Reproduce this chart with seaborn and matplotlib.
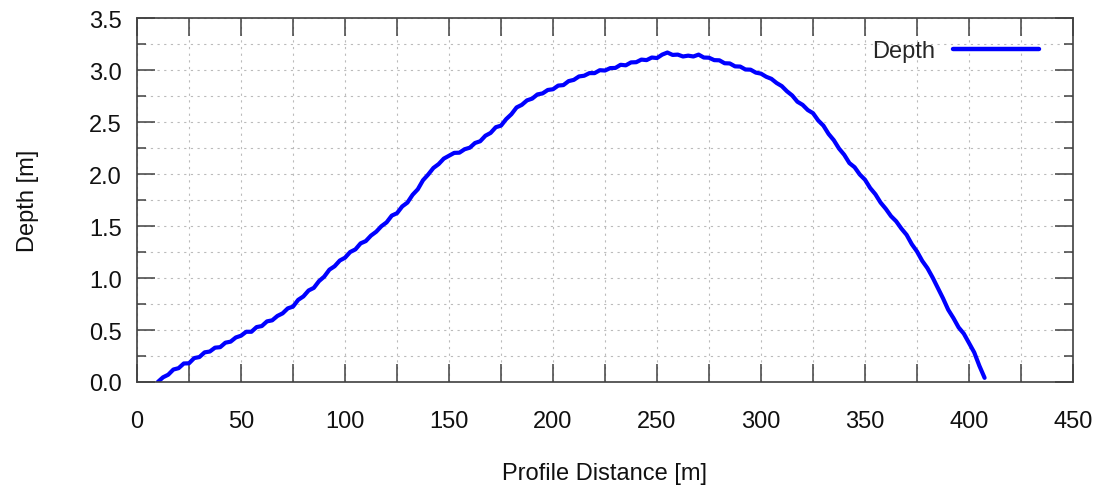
import numpy as np
import pandas as pd
import matplotlib
matplotlib.use("Agg")
import matplotlib.pyplot as plt
import seaborn as sns
from matplotlib.ticker import MultipleLocator, FuncFormatter

# ---- data ----
depth = [
    0.00, 0.045, 0.07, 0.12, 0.133, 0.178, 0.18, 0.23, 0.24, 0.285,
    0.293, 0.33, 0.335, 0.378, 0.388, 0.428, 0.445, 0.483, 0.483, 0.528,
    0.538, 0.583, 0.593, 0.635, 0.66, 0.708, 0.725, 0.79, 0.823, 0.88,
    0.905, 0.97, 1.013, 1.08, 1.113, 1.168, 1.195, 1.25, 1.275, 1.333,
    1.355, 1.408, 1.445, 1.498, 1.535, 1.60, 1.623, 1.688, 1.725, 1.80,
    1.853, 1.94, 1.995, 2.058, 2.095, 2.148, 2.175, 2.203, 2.205, 2.238,
    2.253, 2.298, 2.315, 2.368, 2.395, 2.45, 2.465, 2.528, 2.575, 2.64,
    2.665, 2.708, 2.725, 2.765, 2.775, 2.808, 2.815, 2.85, 2.855, 2.893,
    2.905, 2.938, 2.945, 2.97, 2.97, 2.998, 2.995, 3.018, 3.02, 3.05,
    3.045, 3.073, 3.075, 3.10, 3.095, 3.12, 3.115, 3.148, 3.168, 3.145,
    3.148, 3.13, 3.138, 3.13, 3.148, 3.12, 3.118, 3.095, 3.093, 3.065,
    3.063, 3.035, 3.033, 3.005, 3.003, 2.975, 2.965, 2.935, 2.915, 2.875,
    2.845, 2.795, 2.755, 2.695, 2.665, 2.615, 2.585, 2.515, 2.465, 2.385,
    2.325, 2.245, 2.185, 2.105, 2.065, 1.995, 1.945, 1.865, 1.805, 1.725,
    1.665, 1.595, 1.545, 1.475, 1.415, 1.325, 1.255, 1.165, 1.095, 1.005,
    0.905, 0.805, 0.695, 0.615, 0.525, 0.465, 0.375, 0.285, 0.155, 0.04,
]
start_distance = 10.0
step_distance = 2.5
distance = start_distance + step_distance * np.arange(len(depth))

x_ticks = [0, 50, 100, 150, 200, 250, 300, 350, 400, 450]
y_ticks = [0.0, 0.5, 1.0, 1.5, 2.0, 2.5, 3.0, 3.5]

df = pd.DataFrame({"Profile Distance [m]": distance, "Depth [m]": depth})

# ---- style ----
sns.set_theme(style="white")
plt.rcParams["font.family"] = ["Liberation Sans", "DejaVu Sans"]
FS = 17

fig = plt.figure(figsize=(10.97, 4.89), dpi=100)
ax = fig.add_axes([137 / 1097, 106 / 489, 936 / 1097, 364 / 489])

sns.lineplot(data=df, x="Profile Distance [m]", y="Depth [m]", ax=ax,
             color="#0000ff", linewidth=3.0, label="Depth",
             sort=False, estimator=None)

ax.set_xlim(0, 450)
ax.set_ylim(0, 3.5)

ax.xaxis.set_major_locator(MultipleLocator(25))
ax.xaxis.set_major_formatter(FuncFormatter(
    lambda v, p: f"{int(round(v))}" if int(round(v)) in x_ticks else ""))
ax.yaxis.set_major_locator(MultipleLocator(0.5))
ax.yaxis.set_minor_locator(MultipleLocator(0.25))
ax.yaxis.set_major_formatter(FuncFormatter(lambda v, p: f"{v:.1f}"))

ax.tick_params(axis="both", which="both", direction="in",
               top=True, right=True, bottom=True, left=True,
               color="#404040", width=1.1, labelsize=FS, labelcolor="#111111")
ax.tick_params(axis="x", which="major", length=13, pad=20)
ax.tick_params(axis="y", which="major", length=13, pad=11)
ax.tick_params(axis="y", which="minor", length=6.5)

ax.grid(True, which="both", color="#bbbbbb", linestyle=(0, (2, 4)), linewidth=0.8)
ax.set_axisbelow(True)

for s in ax.spines.values():
    s.set_color("#404040")
    s.set_linewidth(1.2)

ax.set_xlabel("Profile Distance [m]", fontsize=FS, color="#111111", labelpad=22)
ax.set_ylabel("Depth [m]", fontsize=FS, color="#111111", labelpad=36)

leg = ax.legend(loc="upper right", bbox_to_anchor=((1039 - 137) / 936, (383 - 41) / 364),
                frameon=False, markerfirst=False, fontsize=FS,
                handlelength=3.65, handletextpad=0.76,
                borderpad=0, borderaxespad=0)
for line in leg.get_lines():
    line.set_linewidth(3.2)

fig.savefig("out.png", dpi=100)
